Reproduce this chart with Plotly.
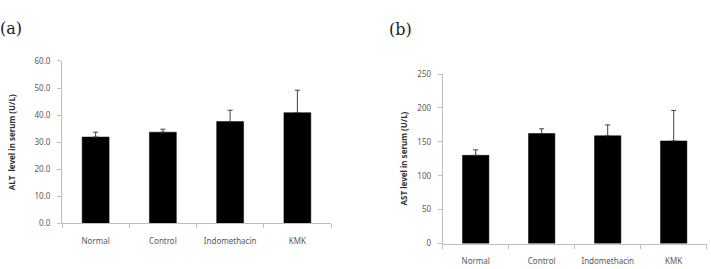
import plotly.graph_objects as go

categories = ["Normal", "Control", "Indomethacin", "KMK"]
alt_values = [31.9, 33.7, 37.6, 40.9]
alt_errors = [1.8, 1.1, 4.2, 8.3]
ast_values = [130.2, 162.3, 159.0, 151.4]
ast_errors = [8.0, 7.0, 16.0, 45.0]
alt_ticks = [0, 10, 20, 30, 40, 50, 60]
alt_ticklabels = ["0.0", "10.0", "20.0", "30.0", "40.0", "50.0", "60.0"]
ast_ticks = [0, 50, 100, 150, 200, 250]

W, H = 711, 269
tickfont = dict(family="Noto Sans, Open Sans, sans-serif", size=8, color="#595959")
axcol = "#bfbfbf"

fig = go.Figure()
fig.add_trace(go.Bar(
    x=categories, y=alt_values, width=0.4,
    marker=dict(color="black", line=dict(color="black", width=0.5)),
    error_y=dict(type="data", array=alt_errors, arrayminus=[0] * len(alt_errors),
                 symmetric=False, color="#404040", thickness=1, width=2.5),
    xaxis="x", yaxis="y", showlegend=False))
fig.add_trace(go.Bar(
    x=categories, y=ast_values, width=0.4,
    marker=dict(color="black", line=dict(color="black", width=0.5)),
    error_y=dict(type="data", array=ast_errors, arrayminus=[0] * len(ast_errors),
                 symmetric=False, color="#404040", thickness=1, width=2.5),
    xaxis="x2", yaxis="y2", showlegend=False))

def xax(domain, anchor, standoff):
    return dict(domain=domain, anchor=anchor, showline=True, linecolor=axcol, linewidth=1,
                ticks="outside", tickson="boundaries", ticklen=4, tickcolor=axcol,
                tickfont=tickfont, showgrid=False, zeroline=False, fixedrange=True,
                ticklabelstandoff=standoff)

def yax(domain, anchor, rng, tickvals, ticktext):
    return dict(domain=domain, anchor=anchor, range=rng, showline=True, linecolor=axcol,
                linewidth=1, ticks="outside", ticklen=4, tickcolor=axcol,
                tickvals=tickvals, ticktext=ticktext, tickfont=tickfont,
                showgrid=False, zeroline=False, fixedrange=True, ticklabelstandoff=5)

fig.update_layout(
    width=W, height=H, margin=dict(l=0, r=0, t=0, b=0),
    paper_bgcolor="white", plot_bgcolor="white",
    xaxis=xax([62 / W, 331 / W], "y", 10),
    yaxis=yax([1 - 226.7 / H, 1 - 57.3 / H], "x", [0, 60], alt_ticks, alt_ticklabels),
    xaxis2=xax([442.7 / W, 706.7 / W], "y2", 10),
    yaxis2=yax([1 - 247.7 / H, 1 - 71 / H], "x2", [0, 250], ast_ticks, [str(v) for v in ast_ticks]),
    annotations=[
        dict(text="(a)", x=-2 / W, y=1 - 23 / H, xref="paper", yref="paper", xanchor="left",
             yanchor="middle", showarrow=False,
             font=dict(family="DejaVu Serif, Liberation Serif, serif", size=16, color="#222")),
        dict(text="(b)", x=387 / W, y=1 - 24 / H, xref="paper", yref="paper", xanchor="left",
             yanchor="middle", showarrow=False,
             font=dict(family="DejaVu Serif, Liberation Serif, serif", size=16, color="#222")),
        dict(text="<b>ALT  level in serum (U/L)</b>", x=11 / W, y=1 - 142 / H, xref="paper",
             yref="paper", textangle=-90, showarrow=False, xanchor="center", yanchor="middle",
             font=dict(family="Noto Sans, Open Sans, sans-serif", size=8, color="#333")),
        dict(text="<b>AST level in serum (U/L)</b>", x=403 / W, y=1 - 159 / H, xref="paper",
             yref="paper", textangle=-90, showarrow=False, xanchor="center", yanchor="middle",
             font=dict(family="Noto Sans, Open Sans, sans-serif", size=8, color="#333")),
    ],
)

fig.write_html("out.html")
